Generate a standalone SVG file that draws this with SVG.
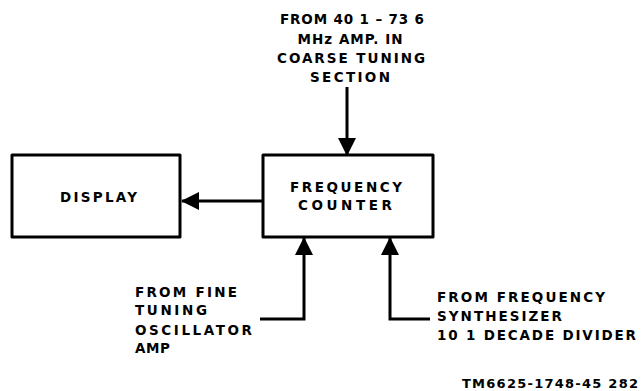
<svg xmlns="http://www.w3.org/2000/svg" width="642" height="391" viewBox="0 0 642 391">
<defs>
<style>
.box{fill:#fff;stroke:#000;stroke-width:3;stroke-linejoin:round}
.ln{fill:none;stroke:#000;stroke-width:3}
text{font-family:"DejaVu Sans","Liberation Sans",Arial,sans-serif;font-weight:bold;font-size:13.5px;fill:#000}
.c{text-anchor:middle}
.sm{font-size:13px}
</style>
<marker id="ah" markerUnits="userSpaceOnUse" markerWidth="18" markerHeight="20" viewBox="0 0 18 20" refX="17" refY="10" orient="auto">
<path d="M0,1 L18,10 L0,19 Z" fill="#000"/>
</marker>
</defs>
<rect width="642" height="391" fill="#fff"/>
<g id="display">
<rect class="box" x="12" y="155" width="168" height="82"/>
<text class="c" x="98.5" y="202" textLength="77" lengthAdjust="spacing">DISPLAY</text>
</g>
<g id="counter">
<rect class="box" x="263" y="155" width="170" height="82"/>
<text class="c" x="346" y="192" textLength="112" lengthAdjust="spacing">FREQUENCY</text>
<text class="c" x="345" y="210" textLength="94" lengthAdjust="spacing">COUNTER</text>
</g>
<g id="src-coarse">
<text class="c" x="352" y="24" textLength="144" lengthAdjust="spacing">FROM 40 1 – 73 6</text>
<text class="c" x="350" y="44" textLength="105" lengthAdjust="spacing">MHz AMP. IN</text>
<text class="c" x="351" y="63" textLength="148" lengthAdjust="spacing">COARSE TUNING</text>
<text class="c" x="350" y="82" textLength="80" lengthAdjust="spacing">SECTION</text>
</g>
<g id="src-fine">
<text x="135" y="297" textLength="102" lengthAdjust="spacing">FROM FINE</text>
<text x="135" y="315" textLength="72" lengthAdjust="spacing">TUNING</text>
<text x="135" y="335" textLength="117" lengthAdjust="spacing">OSCILLATOR</text>
<text x="135" y="353" textLength="35" lengthAdjust="spacing">AMP</text>
</g>
<g id="src-synth">
<text x="437" y="302" textLength="168" lengthAdjust="spacing">FROM FREQUENCY</text>
<text x="437" y="321" textLength="125" lengthAdjust="spacing">SYNTHESIZER</text>
<text x="437" y="340" textLength="199" lengthAdjust="spacing">10 1 DECADE DIVIDER</text>
</g>
<text class="sm" x="638" y="388" text-anchor="end" textLength="176" lengthAdjust="spacing">TM6625-1748-45 282</text>
<g id="connectors">
<path class="ln" d="M347,87 V155" marker-end="url(#ah)"/>
<path class="ln" d="M263,201 H182" marker-end="url(#ah)"/>
<path class="ln" d="M260,319 H304 V238" marker-end="url(#ah)"/>
<path class="ln" d="M430,319 H390 V238" marker-end="url(#ah)"/>
</g>
</svg>
